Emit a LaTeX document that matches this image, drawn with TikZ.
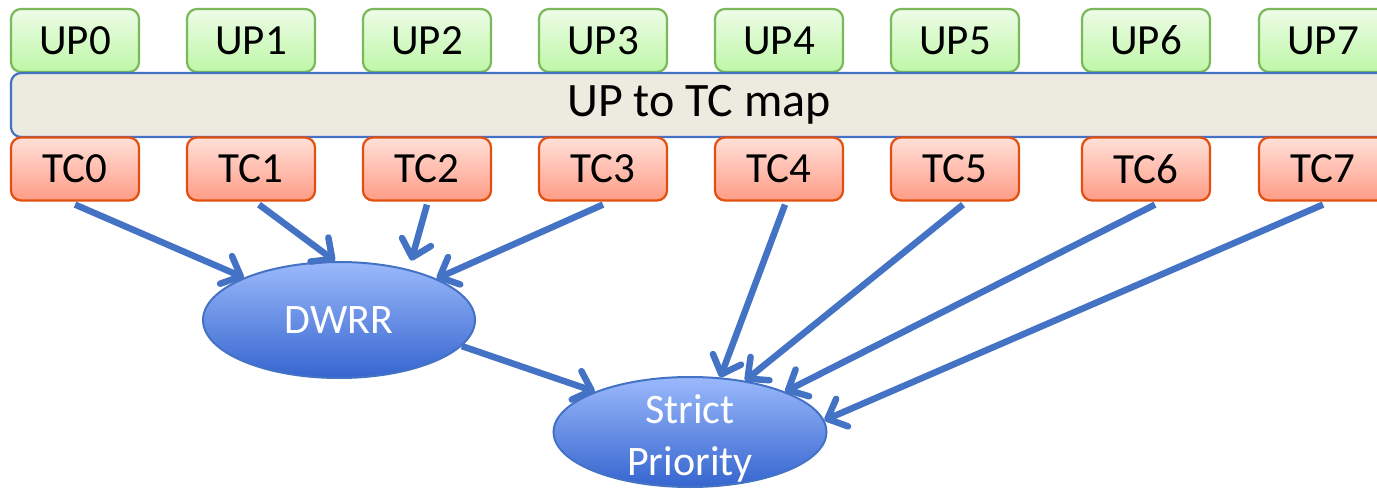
\documentclass[tikz,border=0pt]{standalone}
\usepackage{fontspec}
\setmainfont{Carlito}
\usetikzlibrary{arrows.meta,shapes.geometric,calc}

\definecolor{upedge}{HTML}{7AB85A}
\definecolor{uptop}{HTML}{EEFCE8}
\definecolor{upbot}{HTML}{BDF7A6}
\definecolor{tcedge}{HTML}{E2500F}
\definecolor{tctop}{HTML}{FFE0D8}
\definecolor{tcbot}{HTML}{FF9C86}
\definecolor{mapfill}{HTML}{EDEAE0}
\definecolor{linkblue}{HTML}{4472C4}
\definecolor{elltop}{HTML}{9BB9FB}
\definecolor{ellbot}{HTML}{3565CF}

\tikzset{
  lbl/.style={font=\fontsize{43}{52}\selectfont},
  upbox/.style={lbl, draw=upedge, line width=2.2pt, rounded corners=10pt,
    top color=uptop, bottom color=upbot, minimum width=128pt, minimum height=63pt,
    inner sep=0pt},
  tcbox/.style={lbl, draw=tcedge, line width=2.2pt, rounded corners=10pt,
    top color=tctop, bottom color=tcbot, minimum width=128pt, minimum height=63pt,
    inner sep=0pt},
  mapbar/.style={font=\fontsize{48}{56}\selectfont, draw=linkblue, line width=2.2pt,
    rounded corners=10pt, fill=mapfill, minimum height=64pt, inner sep=0pt},
  sched/.style={ellipse, draw=linkblue, line width=2pt,
    top color=elltop, bottom color=ellbot, inner sep=0pt},
  schedtext/.style={font=\fontsize{42}{52}\selectfont, text=white, align=center, inner sep=0pt},
  link/.style={draw=linkblue, line width=6.5pt,
    -{Straight Barb[length=16pt,width=30pt,round]}},
}

\begin{document}
\begin{tikzpicture}[x=1pt,y=-1pt]
\useasboundingbox (0,0) rectangle (1377,489);

% user priorities
\foreach \i/\x in {0/75,1/251,2/427,3/603,4/779,5/955,6/1146,7/1323}
  \node[upbox] (up\i) at (\x,40.5) {UP\i};

% mapping table
\node[mapbar, minimum width=1376pt] (map) at (699,105) {UP to TC map};

% traffic classes
\foreach \i/\x in {0/75,1/251,2/427,3/603,4/779,5/955,6/1146,7/1323}
  \node[tcbox] (tc\i) at (\x,169) {TC\i};

% schedulers
\node[sched, minimum width=272pt, minimum height=116pt] (dwrr) at (339,320) {};
\node[schedtext] (dwrrtext) at (dwrr.center) {DWRR};
\node[sched, minimum width=273pt, minimum height=110pt] (sp) at (690,432) {};
\node[schedtext] (sptext) at ($(sp.center)+(0,6)$) {Strict\\Priority};

% links into DWRR
\draw[link] ($(tc0.south)+(0,3)$) -- (dwrr.156);
\draw[link] ($(tc1.south)+(8,3)$) -- (dwrr.94);
\draw[link, shorten >=9pt] ($(tc2.south)+(0,3)$) -- (dwrr.36);
\draw[link] ($(tc3.south)+(0,3)$) -- (dwrr.23);

% links into strict priority
\draw[link] (dwrr.-12) -- (sp.157);
\draw[link] ($(tc4.south)+(6,3)$) -- (sp.61);
\draw[link] ($(tc5.south)+(8,3)$) -- (sp.43);
\draw[link] ($(tc6.south)+(9,3)$) -- (sp.23);
\draw[link] ($(tc7.south)+(0,3)$) -- (sp.5);
\end{tikzpicture}
\end{document}
